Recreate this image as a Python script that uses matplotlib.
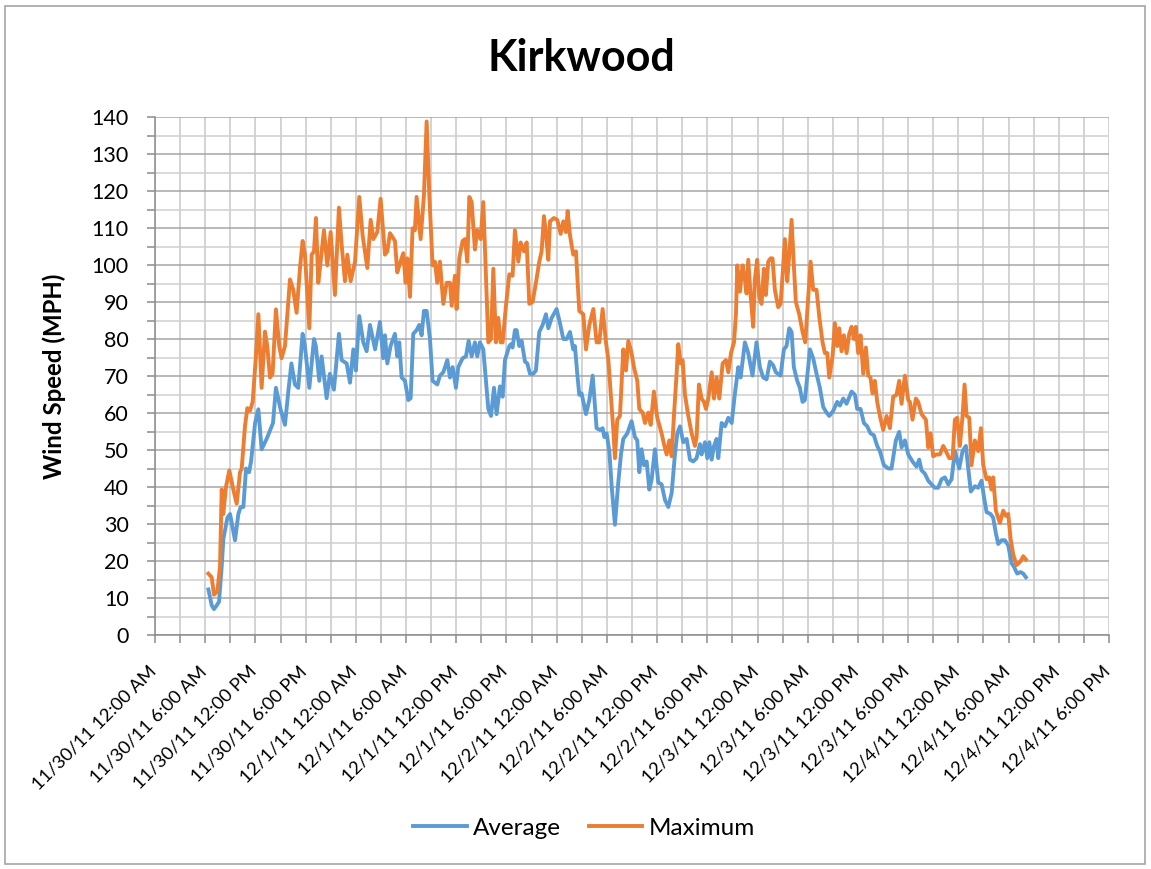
import matplotlib
matplotlib.use("Agg")
import matplotlib.pyplot as plt
import matplotlib.dates as mdates
import matplotlib.transforms as mtransforms
from matplotlib.ticker import MultipleLocator, FuncFormatter
from matplotlib.patches import Rectangle
import pandas as pd

plt.rcParams['font.family'] = ['Lato', 'DejaVu Sans']

# Hours after 11/30/11 12:00 AM, and wind speed in MPH
max_hours = [6.37, 6.77, 7.05, 7.45, 7.77, 7.97, 8.16, 8.48, 8.88, 9.36, 9.76, 10.16, 10.36, 10.75,
             11.03, 11.35, 11.67, 12.03, 12.35, 12.74, 13.14, 13.42, 13.74, 14.05, 14.45, 14.85,
             15.13, 15.53, 16.13, 16.52, 16.92, 17.32, 17.64, 17.92, 18.44, 18.72, 19.0, 19.23,
             19.51, 19.79, 20.19, 20.59, 20.99, 21.5, 21.98, 22.3, 22.7, 22.98, 23.38, 23.9, 24.41,
             24.81, 25.37, 25.77, 26.09, 26.56, 26.96, 27.48, 27.76, 28.08, 28.67, 28.95, 29.27,
             29.67, 29.95, 30.15, 30.47, 30.78, 31.06, 31.26, 31.74, 32.14, 32.46, 32.78, 33.17,
             33.45, 33.73, 34.05, 34.45, 34.85, 35.25, 35.45, 35.84, 36.04, 36.36, 36.76, 37.04,
             37.32, 37.56, 37.84, 38.23, 38.51, 38.91, 39.23, 39.55, 39.83, 40.15, 40.43, 40.74,
             41.02, 41.3, 41.54, 41.94, 42.34, 42.73, 43.01, 43.41, 43.69, 44.09, 44.41, 44.73,
             45.12, 45.52, 45.92, 46.2, 46.48, 46.72, 47.0, 47.2, 47.67, 48.07, 48.47, 48.79,
             49.11, 49.31, 49.59, 49.98, 50.3, 50.7, 51.18, 51.5, 51.9, 52.38, 52.77, 53.09, 53.49,
             53.89, 54.17, 54.57, 54.77, 54.96, 55.24, 55.56, 55.96, 56.28, 56.56, 56.95, 57.23,
             57.63, 57.87, 58.27, 58.55, 58.95, 59.23, 59.62, 60.02, 60.54, 60.82, 61.14, 61.46,
             61.74, 62.01, 62.33, 62.53, 62.81, 63.05, 63.33, 63.73, 64.13, 64.52, 64.72, 65.0,
             65.32, 65.6, 65.84, 66.12, 66.52, 66.8, 67.11, 67.43, 67.83, 68.23, 68.51, 68.83,
             69.19, 69.42, 69.58, 69.9, 70.21, 70.49, 70.69, 70.89, 71.16, 71.48, 71.68, 71.96,
             72.2, 72.48, 72.76, 73.0, 73.28, 73.56, 73.79, 74.07, 74.47, 74.75, 74.99, 75.27,
             75.55, 75.79, 76.07, 76.34, 76.58, 76.98, 77.38, 77.7, 78.06, 78.34, 78.65, 79.05,
             79.37, 79.77, 80.05, 80.33, 80.57, 80.97, 81.24, 81.52, 81.76, 82.04, 82.32, 82.64,
             82.96, 83.24, 83.52, 83.75, 84.03, 84.31, 84.63, 84.95, 85.23, 85.5, 85.74, 86.02,
             86.3, 86.62, 87.02, 87.42, 87.82, 88.21, 88.61, 88.93, 89.21, 89.61, 90.01, 90.21,
             90.52, 90.92, 91.2, 91.6, 92.12, 92.4, 92.68, 92.99, 93.39, 93.79, 94.19, 94.51,
             94.91, 95.31, 95.58, 95.86, 96.18, 96.5, 96.74, 96.98, 97.3, 97.57, 97.97, 98.37,
             98.69, 98.97, 99.37, 99.69, 99.96, 100.16, 100.48, 100.96, 101.36, 101.68, 101.96,
             102.24, 102.55, 102.95, 103.43, 103.75, 104.07]
max_speed = [16.6, 15.6, 10.9, 11.8, 18.5, 39.3, 32.7, 40, 44.5, 39.3, 35.5, 44, 45, 56.4,
             61.3, 60.6, 63, 74.4, 86.7, 66.8, 82, 78, 69.6, 70.6, 88, 78,
             74.8, 78.1, 96.1, 93.3, 87.1, 99, 106.5, 102.8, 82.9, 102.8, 103.7, 112.7,
             95.2, 100.9, 109.4, 99.9, 108.9, 91.9, 115.5, 105.6, 95.6, 102.8, 95.6, 100.9, 118.4,
             108, 99.2, 112.2, 107, 108.9, 117.9, 102.8, 103.7, 108.6, 106.5, 98, 100.4,
             103.2, 95.2, 101.8, 91.4, 109.9, 109.4, 118.4, 107, 118.9, 138.8, 118.9, 99.9,
             100.9, 95.2, 100.9, 89.5, 95.2, 95.2, 89, 97.1, 88.1, 101.8, 106.5, 107,
             100.9, 118.4, 117, 104.2, 109.4, 107, 117, 97.1, 79.1, 80, 99, 79.1,
             85.7, 79.1, 79.1, 89, 97.5, 97.1, 109.4, 100.9, 106.1, 103.7, 106.1, 89.5,
             90, 95.2, 100.9, 103.7, 113.2, 108.4, 101.4, 111.8, 112.7, 112.2, 108.4, 111.8,
             108.9, 114.6, 108, 102.8, 103.7, 87.6, 86.7, 77.2, 83.8, 88.1, 79.1, 79.1, 88.1,
             79.1, 74.4, 62, 55.4, 47.8, 58.2, 59.2, 77.2, 71.5, 79.5, 76.2, 72.4,
             68.7, 61.1, 60.1, 57.3, 60.1, 56.8, 65.8, 58.7, 54.5, 51.6, 48.8, 52.6,
             48.3, 59.2, 70.6, 78.6, 73.4, 74.3, 64.9, 59.2, 54.5, 51.1, 53.5, 67.7,
             63.9, 63, 61.1, 63.9, 71, 63.9, 69.6, 63.9, 73.4, 74.3, 71, 76.2,
             79.1, 86.7, 99.9, 92.8, 99.9, 96.1, 92.3, 101.4, 92.3, 83.3, 96.1, 101.4,
             91.4, 89.5, 99, 91.9, 100.9, 101.8, 101.8, 93.3, 88.6, 89.5, 97.1, 107,
             95.6, 102.8, 112.2, 99.9, 90, 86.7, 81.9, 79.1, 91.4, 100.9, 93.3, 93.3,
             86.2, 79.1, 76.2, 76.2, 69.6, 75.3, 84.3, 78.1, 82.9, 76.7, 81, 76.2,
             81.4, 83.3, 80, 83.3, 76.2, 81, 70.6, 77.7, 70.1, 69.6, 65.3, 68.7,
             63, 59.2, 55.4, 59.2, 55.9, 64.4, 64.9, 68.7, 62.5, 70.1, 63.5, 63,
             58.2, 63.9, 63, 59.7, 58.2, 50.7, 54.5, 48.3, 48.8, 48.8, 51.1, 49.7,
             47.8, 47.8, 58.2, 58.7, 51.1, 59.2, 67.7, 59.2, 58.7, 45.9, 52.6, 49.7,
             55.9, 45.9, 42.1, 42.6, 39.3, 42.6, 33.6, 30.3, 33.6, 32.2, 32.7,
             26, 21.8, 18.9, 19.9, 21.3, 20.4]

avg_hours = [6.38, 6.78, 7.05, 7.37, 7.65, 7.97, 8.17, 8.65, 8.97, 9.56, 9.96, 10.24, 10.56, 10.88,
             11.24, 11.48, 11.96, 12.35, 12.74, 13.34, 14.1, 14.45, 15.0, 15.53, 15.93, 16.3,
             16.72, 17.12, 17.64, 17.92, 18.44, 19.0, 19.23, 19.63, 19.91, 20.51, 20.9, 21.38,
             21.98, 22.3, 22.9, 23.3, 23.7, 24.0, 24.41, 24.89, 25.29, 25.69, 26.3, 26.88, 27.28,
             27.48, 27.76, 28.15, 28.67, 28.95, 29.19, 29.47, 29.87, 30.27, 30.55, 30.86, 31.26,
             31.58, 31.86, 32.14, 32.46, 32.86, 33.17, 33.73, 34.05, 34.45, 34.93, 35.25, 35.57,
             35.96, 36.24, 36.76, 37.16, 37.48, 37.84, 38.23, 38.51, 38.83, 39.23, 39.55, 39.83,
             40.15, 40.51, 40.82, 41.22, 41.54, 41.82, 42.34, 42.53, 42.73, 43.01, 43.21, 43.53,
             43.81, 44.21, 44.49, 44.81, 45.2, 45.52, 45.92, 46.32, 46.72, 47.0, 47.4, 47.99,
             48.39, 48.79, 49.19, 49.59, 49.98, 50.18, 50.46, 50.7, 50.98, 51.5, 51.9, 52.3,
             52.77, 53.17, 53.49, 53.69, 53.97, 54.29, 54.57, 54.96, 55.36, 55.68, 55.96, 56.44,
             56.95, 57.35, 57.63, 57.87, 58.15, 58.43, 58.75, 59.07, 59.35, 59.74, 60.14, 60.54,
             60.94, 61.34, 61.74, 62.13, 62.41, 62.73, 63.13, 63.53, 63.93, 64.32, 64.72, 65.12,
             65.32, 65.72, 66.0, 66.24, 66.52, 66.8, 67.11, 67.31, 67.71, 68.11, 68.51, 68.91,
             69.3, 69.7, 69.98, 70.49, 70.89, 71.4, 71.88, 72.28, 72.68, 73.08, 73.48, 73.87,
             74.19, 74.75, 75.15, 75.47, 75.79, 76.07, 76.34, 76.74, 77.06, 77.38, 77.66, 78.26,
             78.65, 79.05, 79.45, 79.85, 80.25, 80.57, 81.05, 81.52, 81.84, 82.24, 82.64, 83.24,
             83.64, 83.91, 84.31, 84.71, 85.11, 85.5, 85.9, 86.3, 86.62, 87.1, 87.62, 88.01,
             88.53, 88.93, 89.21, 89.61, 90.01, 90.52, 91.0, 91.32, 91.6, 92.0, 92.4, 92.8,
             93.19, 93.59, 93.99, 94.39, 94.79, 95.19, 95.58, 96.1, 96.5, 96.9, 97.18, 97.49,
             97.97, 98.37, 98.77, 99.05, 99.37, 99.85, 100.16, 100.48, 100.76, 101.16, 101.56,
             101.96, 102.36, 102.63, 103.03, 103.43, 103.75, 104.07]
avg_speed = [12.3, 8, 7, 8, 9, 18.5, 26, 31.7, 32.7, 25.6, 32.7, 34.6, 34.6, 45,
             44, 46.9, 57.3, 61, 50.2, 53, 57.3, 66.8, 61, 56.8, 65.8, 73.4,
             67.7, 66.8, 81.4, 78, 66.8, 80, 78, 68.7, 75.3, 64, 70.6, 66.3,
             81.4, 74.3, 73.4, 68.2, 77.2, 71.5, 86.2, 79.1, 76.7, 83.8, 77.2, 84.6, 74.8,
             81, 73.4, 78.1, 81.4, 75.3, 79.1, 69.6, 68.7, 63.5, 64, 81.4, 82.4,
             83.8, 81, 87.6, 87.6, 80, 68.7, 67.7, 70.1, 71, 74.3, 69.6, 72.4,
             66.8, 72.4, 74.8, 75.3, 79.5, 75.3, 79.1, 75.3, 79.1, 77.2, 68.7, 61.1,
             59.2, 66.8, 59.7, 67.2, 64.4, 74.3, 78.1, 78.6, 77.7, 82.4, 82.4, 78.1,
             79.5, 73.9, 73.4, 70.6, 70.6, 71.5, 81.9, 83.8, 86.7, 82.9, 85.7, 88.1,
             84.3, 80, 80, 81.9, 77.2, 78.1, 70.6, 64.9, 65.3, 59.7, 63.5, 70.1,
             55.9, 55.4, 55.9, 53.5, 54.5, 49.7, 40.2, 29.8, 41.2, 48.8, 53, 54.5,
             57.8, 53.5, 52.6, 44, 50.2, 45.9, 46.9, 39.3, 42.1, 50.2, 41.2, 40.7,
             36.5, 34.6, 38.4, 48.8, 54.5, 56.4, 52.1, 53, 47.4, 46.9, 47.8, 51.6,
             48.8, 52.1, 47.8, 52.1, 47.4, 51.1, 53, 47.8, 57.3, 56.4, 58.7, 57.3,
             65.3, 72.4, 69.6, 79.1, 76.2, 70.1, 79.1, 72.4, 69.6, 69.1, 73.9, 72.9,
             71, 70.1, 77.2, 78.1, 82.9, 81.9, 72.4, 68.7, 66.8, 63, 63.5, 77.2,
             74.8, 70.6, 66.8, 61.6, 60.1, 59.2, 60.6, 63, 62, 63.9, 62.5, 65.8,
             64.9, 61.1, 61.1, 57.3, 56.4, 54.5, 54, 51.1, 49.7, 45.9, 45, 45,
             52.6, 54.9, 50.7, 52.6, 48.8, 46.9, 45.5, 47.4, 44.5, 43.6, 41.7, 40.7,
             39.8, 39.8, 42.1, 42.6, 40.7, 42.1, 49.7, 45, 49.7, 51.1, 45, 38.8,
             40.2, 39.8, 41.7, 37.4, 33.2, 32.7, 31.7, 27.5, 24.6, 25.6, 25.6,
             24.2, 19.4, 18.5, 16.6, 17, 16.6, 15.6]

start = pd.Timestamp("2011-11-30 00:00")
end = pd.Timestamp("2011-12-04 18:00")
avg_time = start + pd.to_timedelta(avg_hours, unit="h")
max_time = start + pd.to_timedelta(max_hours, unit="h")


def excel_date(x, pos=None):
    d = mdates.num2date(x)
    h = d.hour % 12
    if h == 0:
        h = 12
    ampm = "AM" if d.hour < 12 else "PM"
    return f"{d.month}/{d.day}/{d.strftime('%y')} {h}:{d.minute:02d} {ampm}"


fig = plt.figure(figsize=(11.51, 8.69), dpi=100)
ax = fig.add_axes([155 / 1151, 1 - 635 / 869, 954 / 1151, 518 / 869])

ax.plot(avg_time, avg_speed, color="#5B9BD5", lw=2.8, label="Average", solid_joinstyle="round")
ax.plot(max_time, max_speed, color="#ED7D31", lw=2.8, label="Maximum", solid_joinstyle="round")

ax.set_xlim(start, end)
ax.set_ylim(0, 140)

ax.yaxis.set_major_locator(MultipleLocator(10))
ax.yaxis.set_minor_locator(MultipleLocator(5))
ax.xaxis.set_major_locator(mdates.HourLocator(byhour=[0, 6, 12, 18]))
ax.xaxis.set_minor_locator(mdates.HourLocator(byhour=[3, 9, 15, 21]))
ax.xaxis.set_major_formatter(FuncFormatter(excel_date))

ax.grid(True, which="major", axis="y", color="#A6A6A6", lw=1.1)
ax.grid(True, which="minor", axis="y", color="#D0D0D0", lw=1.1)
ax.grid(True, which="both", axis="x", color="#C8C8C8", lw=1.1)
ax.set_axisbelow(True)

for side in ["top", "right"]:
    ax.spines[side].set_visible(False)
for side in ["left", "bottom"]:
    ax.spines[side].set_color("#8C8C8C")
    ax.spines[side].set_linewidth(1.1)

ax.tick_params(axis="both", which="both", direction="out", length=6, width=1.1, color="#8C8C8C")
ax.tick_params(axis="y", which="major", labelsize=15.5, pad=13)
ax.tick_params(axis="x", which="major", labelsize=13.3, pad=12)
# nudge the slanted date labels so they end right under their tick
shift = mtransforms.ScaledTranslation(-7 / 100, -3 / 100, fig.dpi_scale_trans)
for lbl in ax.get_xticklabels():
    lbl.set_rotation(45)
    lbl.set_ha("right")
    lbl.set_va("top")
    lbl.set_rotation_mode("anchor")
    lbl.set_transform(lbl.get_transform() + shift)

ax.set_ylabel("Wind Speed (MPH)", fontsize=17.3, fontweight="bold")
ax.yaxis.set_label_coords(-0.093, 0.5)

fig.text(0.505, 1 - 58 / 869, "Kirkwood", ha="center", va="center", fontsize=31, fontweight="bold")

fig.legend(loc="center", bbox_to_anchor=(584 / 1151, 1 - 828 / 869), ncol=2, frameon=False,
           fontsize=17.5, handlelength=2.2, handletextpad=0.25, columnspacing=1.15)

fig.patches.append(Rectangle((5 / 1151, 5 / 869), 1140 / 1151, 858 / 869, transform=fig.transFigure,
                             fill=False, edgecolor="#A6A6A6", lw=1.2))

fig.savefig("out.png", dpi=100)
